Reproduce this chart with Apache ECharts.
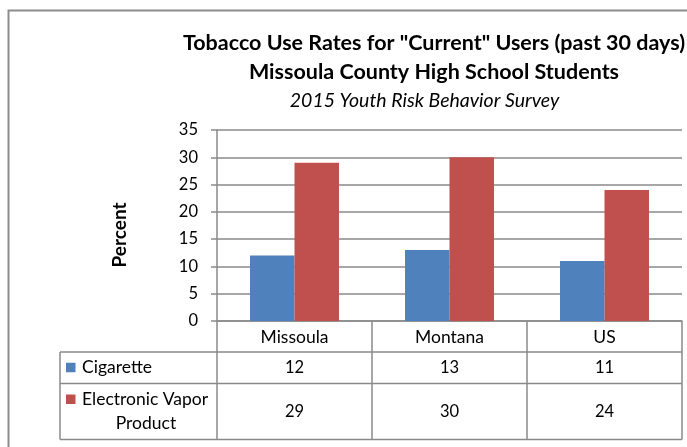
<!DOCTYPE html>
<html>
<head>
<meta charset="utf-8">
<script src="https://cdn.jsdelivr.net/npm/echarts@6/dist/echarts.min.js"></script>
<style>
html,body{margin:0;padding:0;background:#fff;}
#chart{width:687px;height:447px;}
</style>
</head>
<body>
<div id="chart"></div>
<script>
const titleLine1 = 'Tobacco Use Rates for "Current" Users (past 30 days)';
const titleLine2 = 'Missoula County High School Students';
const subtitle = '2015 Youth Risk Behavior Survey';
const yAxisName = 'Percent';
const categories = ['Missoula', 'Montana', 'US'];
const seriesNames = ['Cigarette', 'Electronic Vapor Product'];
const cigarette = [12, 13, 11];
const vapor = [29, 30, 24];
const yMin = 0, yMax = 35, yInterval = 5;

const FONT = 'Lato';
const GRAY = '#8a8a8a';
const BLUE = '#4F81BD';
const RED = '#C0504D';

const chart = echarts.init(document.getElementById('chart'), null, {renderer: 'canvas'});

const option = {
  animation: false,
  backgroundColor: '#fff',
  grid: {left: 217, right: 5, top: 130, bottom: 126, containLabel: false},
  xAxis: {
    type: 'category',
    data: categories,
    axisLine: {show: true, lineStyle: {color: GRAY, width: 1.5}},
    axisTick: {show: true, interval: 0, length: 118.5, lineStyle: {color: GRAY, width: 1.5}},
    axisLabel: {interval: 0, margin: 7, fontFamily: FONT, fontSize: 17.5, color: '#000'},
    splitLine: {show: false}
  },
  yAxis: {
    type: 'value',
    min: yMin, max: yMax, interval: yInterval,
    axisLine: {show: true, lineStyle: {color: GRAY, width: 1.5}},
    axisTick: {show: true, length: 6, lineStyle: {color: GRAY, width: 1.5}},
    axisLabel: {margin: 19, fontFamily: FONT, fontSize: 16.5, color: '#000'},
    splitLine: {show: true, lineStyle: {color: GRAY, width: 1.5}}
  },
  series: [
    {name: seriesNames[0], type: 'bar', data: cigarette, itemStyle: {color: BLUE}, barGap: '0%', barCategoryGap: '42.6%'},
    {name: seriesNames[1], type: 'bar', data: vapor, itemStyle: {color: RED}, barGap: '0%', barCategoryGap: '42.6%'}
  ]
};
chart.setOption(option);

// Data table and titles, positioned through the chart's own coordinate conversion
const zeroY = chart.convertToPixel({yAxisIndex: 0}, 0);
const step = chart.convertToPixel({xAxisIndex: 0}, 1) - chart.convertToPixel({xAxisIndex: 0}, 0);
const leftX = chart.convertToPixel({xAxisIndex: 0}, 0) - step / 2;
const rightX = leftX + step * categories.length;
const tableLeft = 60;
const row1Top = zeroY + 31;
const row2Top = zeroY + 62.5;
const tableBottom = zeroY + 118.5;
const lineStyle = {stroke: GRAY, lineWidth: 1.5};

const g = [];
g.push({type: 'rect', shape: {x: 8.5, y: 10.5, width: 700, height: 460}, style: {fill: null, stroke: '#8c8c8c', lineWidth: 2}, z: 0, silent: true});
[row1Top, row2Top, tableBottom].forEach(y => g.push({type: 'line', shape: {x1: tableLeft, y1: y, x2: rightX, y2: y}, style: lineStyle, silent: true}));
g.push({type: 'line', shape: {x1: tableLeft, y1: row1Top, x2: tableLeft, y2: tableBottom}, style: lineStyle, silent: true});

const txt = (x, y, text, opts, extra) => Object.assign({type: 'text', x: x, y: y, silent: true,
  style: Object.assign({text: text, fill: '#000', font: '16.5px ' + FONT, textAlign: 'center', textVerticalAlign: 'middle'}, opts || {})}, extra || {});

// Row headers with legend keys
const r1c = (row1Top + row2Top) / 2;
g.push({type: 'rect', shape: {x: 66, y: r1c - 5, width: 9.5, height: 9.5}, style: {fill: BLUE}, silent: true});
g.push(txt(82, r1c, seriesNames[0], {textAlign: 'left', font: '17.5px ' + FONT}));
const r2c = (row2Top + tableBottom) / 2;
g.push({type: 'rect', shape: {x: 66, y: r2c - 17, width: 9.5, height: 9.5}, style: {fill: RED}, silent: true});
g.push(txt(82, r2c - 12, 'Electronic Vapor', {textAlign: 'left', font: '17.5px ' + FONT}));
g.push(txt(146, r2c + 12, 'Product', {font: '17.5px ' + FONT}));

categories.forEach((c, i) => {
  const cx = chart.convertToPixel({xAxisIndex: 0}, i);
  g.push(txt(cx, r1c, String(cigarette[i])));
  g.push(txt(cx, r2c, String(vapor[i])));
});

// Axis title
g.push(txt(119.5, 235, yAxisName, {font: 'bold 19px ' + FONT}, {rotation: Math.PI / 2}));

// Titles
g.push(txt(434, 43, titleLine1, {font: 'bold 21.5px ' + FONT}));
g.push(txt(434, 72, titleLine2, {font: 'bold 21.5px ' + FONT}));
g.push(txt(424.5, 101, subtitle, {font: 'italic 19.5px ' + FONT}));

chart.setOption({graphic: g});
</script>
</body>
</html>
